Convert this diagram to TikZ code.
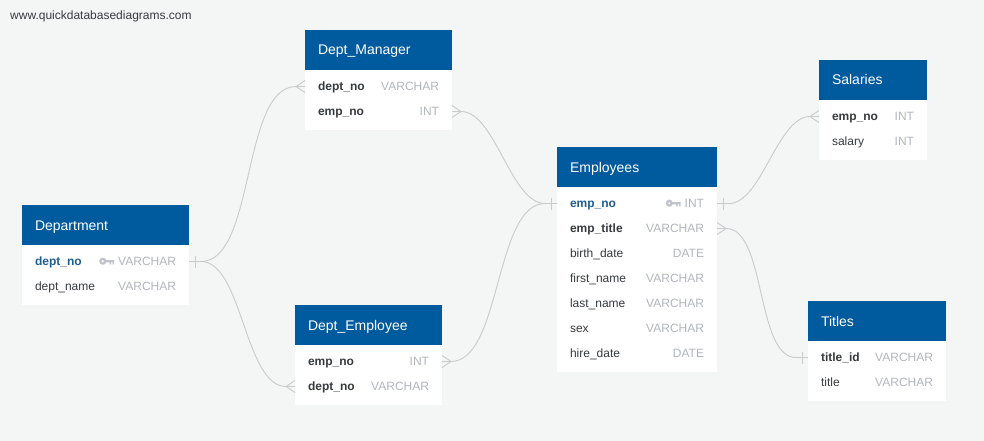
\documentclass[tikz,border=0pt]{standalone}
\usepackage{fontspec}
\setmainfont{Liberation Sans}
\usepackage{xcolor}
\usetikzlibrary{positioning}

\definecolor{qdblue}{RGB}{0,90,158}
\definecolor{pkblue}{RGB}{30,94,150}
\definecolor{namegray}{RGB}{55,58,62}
\definecolor{typegray}{RGB}{178,182,188}
\definecolor{keygray}{RGB}{192,196,202}
\definecolor{linegray}{RGB}{200,202,204}
\definecolor{bggray}{RGB}{244,245,245}

\newcommand{\pk}[1]{{\color{pkblue}\bfseries #1}}
\newcommand{\fk}[1]{{\bfseries #1}}
\newcommand{\ty}[1]{{\color{typegray}#1}}
\newcommand{\keyicon}{\tikz[x=1pt,y=1pt,baseline=-4.3pt]{
    \fill[keygray,even odd rule] (3.6,0) circle (3.6pt) (3.6,0) circle (1.4pt);
    \fill[keygray] (6.5,-1.2) rectangle (15,1.2) (10.5,-1.2) rectangle (12,-3.2) (13.5,-1.2) rectangle (15,-3.2);}\hspace{4pt}}

\tikzset{
    head/.style={fill=qdblue, text=white, anchor=north west, text width=#1, inner xsep=13pt, inner ysep=0pt,
        minimum height=40pt, text height=11pt, text depth=1pt, outer sep=0pt, align=left, font=\fontsize{14}{16}\selectfont},
    body/.style={fill=white, inner sep=0pt, outer sep=0pt},
    field/.style={text width=#1, inner xsep=13pt, inner ysep=0pt, minimum height=25pt, text height=10pt, text depth=2pt,
        outer sep=0pt, align=left, text=namegray, font=\fontsize{12}{14}\selectfont},
    conn/.style={draw=linegray, line width=0.9pt},
    crow/.pic={\draw[conn] (#1*9,0) -- (0,-6) (#1*9,0) -- (0,6) (#1*9,0) -- (0,0);},
    one/.pic={\draw[conn] (#1*6,-6) -- (#1*6,6);}
}

\begin{document}
\begin{tikzpicture}[x=1pt, y=-1pt]
    \fill[bggray] (0,0) rectangle (984,441);
    \useasboundingbox (0,0) rectangle (984,441);
    \node[anchor=west, inner sep=0pt, text=namegray, font=\fontsize{12}{14}\selectfont] (brand) at (10,16) {www.quickdatabasediagrams.com};

    % Department
    \node[head=141pt] (dept) at (22,205) {Department};
    \node[body, minimum width=167pt, minimum height=60pt, below=0pt of dept] (dept-b) {};
    \node[field=141pt, below=4pt of dept] (dept-1) {\pk{dept\_no}\hfill\keyicon\ty{VARCHAR}};
    \node[field=141pt, below=0pt of dept-1] (dept-2) {dept\_name\hfill\ty{VARCHAR}};

    % Dept_Manager
    \node[head=121pt] (dm) at (305,30) {Dept\_Manager};
    \node[body, minimum width=147pt, minimum height=60pt, below=0pt of dm] (dm-b) {};
    \node[field=121pt, below=4pt of dm] (dm-1) {\fk{dept\_no}\hfill\ty{VARCHAR}};
    \node[field=121pt, below=0pt of dm-1] (dm-2) {\fk{emp\_no}\hfill\ty{INT}};

    % Dept_Employee
    \node[head=121pt] (de) at (295,305) {Dept\_Employee};
    \node[body, minimum width=147pt, minimum height=60pt, below=0pt of de] (de-b) {};
    \node[field=121pt, below=4pt of de] (de-1) {\fk{emp\_no}\hfill\ty{INT}};
    \node[field=121pt, below=0pt of de-1] (de-2) {\fk{dept\_no}\hfill\ty{VARCHAR}};

    % Employees
    \node[head=134pt] (emp) at (557,147) {Employees};
    \node[body, minimum width=160pt, minimum height=185pt, below=0pt of emp] (emp-b) {};
    \node[field=134pt, below=4pt of emp] (emp-1) {\pk{emp\_no}\hfill\keyicon\ty{INT}};
    \node[field=134pt, below=0pt of emp-1] (emp-2) {\fk{emp\_title}\hfill\ty{VARCHAR}};
    \node[field=134pt, below=0pt of emp-2] (emp-3) {birth\_date\hfill\ty{DATE}};
    \node[field=134pt, below=0pt of emp-3] (emp-4) {first\_name\hfill\ty{VARCHAR}};
    \node[field=134pt, below=0pt of emp-4] (emp-5) {last\_name\hfill\ty{VARCHAR}};
    \node[field=134pt, below=0pt of emp-5] (emp-6) {sex\hfill\ty{VARCHAR}};
    \node[field=134pt, below=0pt of emp-6] (emp-7) {hire\_date\hfill\ty{DATE}};

    % Salaries
    \node[head=82pt] (sal) at (819,60) {Salaries};
    \node[body, minimum width=108pt, minimum height=60pt, below=0pt of sal] (sal-b) {};
    \node[field=82pt, below=4pt of sal] (sal-1) {\fk{emp\_no}\hfill\ty{INT}};
    \node[field=82pt, below=0pt of sal-1] (sal-2) {salary\hfill\ty{INT}};

    % Titles
    \node[head=112pt] (tit) at (808,301) {Titles};
    \node[body, minimum width=138pt, minimum height=60pt, below=0pt of tit] (tit-b) {};
    \node[field=112pt, below=4pt of tit] (tit-1) {\fk{title\_id}\hfill\ty{VARCHAR}};
    \node[field=112pt, below=0pt of tit-1] (tit-2) {title\hfill\ty{VARCHAR}};

    % relations
    \draw[conn] (dept-1.east) -- ++(12pt,0) to[out=0,in=180,looseness=0.7] ([xshift=-9pt]dm-1.west) -- (dm-1.west);
    \draw[conn] (dept-1.east) -- ++(12pt,0) to[out=0,in=180,looseness=0.7] ([xshift=-9pt]de-2.west) -- (de-2.west);
    \draw[conn] (dm-2.east) -- ++(9pt,0) to[out=0,in=180,looseness=0.7] ([xshift=-12pt]emp-1.west) -- (emp-1.west);
    \draw[conn] (de-1.east) -- ++(9pt,0) to[out=0,in=180,looseness=0.7] ([xshift=-12pt]emp-1.west) -- (emp-1.west);
    \draw[conn] (emp-1.east) -- ++(12pt,0) to[out=0,in=180,looseness=0.7] ([xshift=-9pt]sal-1.west) -- (sal-1.west);
    \draw[conn] (emp-2.east) -- ++(9pt,0) to[out=0,in=180,looseness=0.7] ([xshift=-12pt]tit-1.west) -- (tit-1.west);

    \pic at (dept-1.east) {one=1};
    \pic at (dm-1.west) {crow=-1};
    \pic at (de-2.west) {crow=-1};
    \pic at (dm-2.east) {crow=1};
    \pic at (de-1.east) {crow=1};
    \pic at (emp-1.west) {one=-1};
    \pic at (emp-1.east) {one=1};
    \pic at (sal-1.west) {crow=-1};
    \pic at (emp-2.east) {crow=1};
    \pic at (tit-1.west) {one=-1};
\end{tikzpicture}
\end{document}
